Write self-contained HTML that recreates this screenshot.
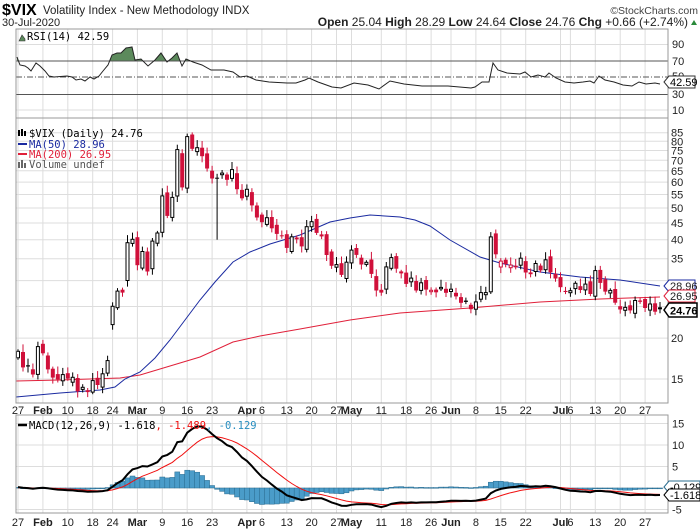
<!DOCTYPE html>
<html><head><meta charset="utf-8"><style>
html,body{margin:0;padding:0;background:#fff;}
svg{display:block;font-family:"Liberation Sans",Arial,sans-serif;}
</style></head><body>
<svg id="c" width="700" height="530" xmlns="http://www.w3.org/2000/svg"></svg>
<script>
const C=[18.23,16.28,16.39,15.49,18.84,17.97,16.05,15.15,14.96,15.47,15.04,15.18,13.74,14.15,13.68,14.83,14.38,15.56,17.08,25.03,27.85,27.56,39.16,40.11,
33.42,36.82,31.99,39.62,41.94,54.46,47.30,53.90,75.47,57.83,82.69,75.91,76.45,72.00,66.04,61.59,61.67,63.95,61.00,65.54,57.08,53.54,
57.06,50.91,46.80,45.24,46.70,43.35,41.67,41.17,37.76,40.84,40.11,38.15,43.83,45.41,41.98,41.38,35.93,33.29,33.57,31.23,34.15,
37.19,35.97,33.61,34.12,31.44,27.98,27.57,33.04,35.28,32.61,31.89,29.30,30.53,27.99,29.53,28.16,28.01,27.62,28.59,27.51,
28.23,26.84,25.66,25.81,24.52,25.81,27.57,27.57,40.79,36.09,34.40,33.67,33.47,32.94,35.12,31.77,31.37,33.84,32.22,34.73,31.78,30.43,
28.62,27.68,27.94,29.43,28.08,29.26,27.29,32.19,29.52,27.76,28.00,25.68,24.46,24.84,24.32,26.08,25.84,24.74,25.44,24.10,24.76];
const X=i=>18+i*4.977;
const Y=v=>379-142*Math.log(v/15);
const YM=v=>488-v*4.3;
let s='';
const L=16,R=668;
const grid=[[0,'27'],[5,'Feb',1],[10,'10'],[15,'18'],[19,'24'],[24,'Mar',1],[29,'9'],[34,'16'],[39,'23'],[46,'Apr',1],[49,'6'],[54,'13'],[59,'20'],[64,'27'],[67,'May',1],[73,'11'],[78,'18'],[83,'26'],[87,'Jun',1],[92,'8'],[97,'15'],[102,'22'],[109,'Jul',1],[111,'6'],[116,'13'],[121,'20'],[126,'27']];
function vgrid(y1,y2){grid.forEach(g=>{s+=`<line x1="${X(g[0]).toFixed(1)}" y1="${y1}" x2="${X(g[0]).toFixed(1)}" y2="${y2}" stroke="#ddd"/>`;});}
function dates(y){grid.forEach(g=>{s+=`<text x="${X(g[0]).toFixed(1)}" y="${y}" font-size="11" text-anchor="middle" ${g[2]?'font-weight="bold"':''} fill="#222">${g[1]}</text>`;});}
vgrid(29,118);
[44.5,110].forEach(y=>s+=`<line x1="${L}" y1="${y}" x2="${R}" y2="${y}" stroke="#ddd"/>`);
const rsi=[[17,57],[20,65],[25,66],[28,68],[31,71],[36,63],[40,66],[45,71],[49,76],[54,77],[67,76],[72,77],[76,80],[81,79],[85,81],[90,77],[94,79],[99,76],[103,71],[108,65],[112,55],[117,53],[121,53],[126,48],[132,47],[135,60],[141,59],[148,66],[155,60],[161,53],[167,62],[172,58],[177,53],[182,66],[186,59],[193,62],[202,65],[211,70],[224,70],[233,72],[240,77],[247,76],[256,80],[269,82],[287,83],[296,83],[305,80],[309,78],[318,82],[332,87],[341,88],[354,83],[368,85],[379,89],[390,81],[404,84],[422,86],[448,86],[471,88],[475,87],[482,82],[489,82],[493,63],[498,70],[507,73],[520,74],[525,72],[531,77],[538,75],[545,77],[549,73],[556,78],[565,82],[574,83],[583,82],[590,81],[594,83],[599,76],[605,80],[614,82],[623,85],[632,86],[639,82],[646,84],[655,83],[660,84]];
const rp=rsi.map(p=>p.join(',')).join(' ');
s+=`<defs><clipPath id="rc"><rect x="${L}" y="29" width="${R-L}" height="32"/></clipPath><clipPath id="mc"><rect x="${L}" y="415" width="${R-L}" height="98"/></clipPath><clipPath id="pc"><rect x="${L}" y="118" width="${R-L}" height="285"/></clipPath></defs>`;
s+=`<polygon points="${rp} 660,61 17,61" fill="#5c8a5c" clip-path="url(#rc)"/>`;
s+=`<line x1="${L}" y1="61" x2="${R}" y2="61" stroke="#555"/><line x1="${L}" y1="94.5" x2="${R}" y2="94.5" stroke="#555"/>`;
s+=`<line x1="${L}" y1="77" x2="${R}" y2="77" stroke="#555" stroke-dasharray="6,2,1,2"/>`;
s+=`<polyline points="${rp}" fill="none" stroke="#222" stroke-width="1"/>`;
s+=`<rect x="${L}" y="29" width="${R-L}" height="89" fill="none" stroke="#999"/>`;
[[90,48],[70,65],[50,80],[30,98],[10,114]].forEach(a=>s+=`<text x="672" y="${a[1]}" font-size="11" fill="#222">${a[0]}</text>`);
s+=`<path d="M664,82 l5,-6 h26 v12 h-26 z" fill="#fff" stroke="#333"/><text x="670" y="86" font-size="11">42.59</text>`;
s+=`<path d="M19,41 l3,-6 l3,4 l0,2z" fill="#5c8a5c" stroke="#333" stroke-width=".6"/><text x="27" y="40" font-size="10.5" font-family="DejaVu Sans Mono,monospace">RSI(14) 42.59</text>`;
vgrid(118,403);
[15,20,25,30,35,40,45,50,55,60,65,70,75,80,85].forEach(v=>{s+=`<line x1="${L}" y1="${Y(v).toFixed(1)}" x2="${R}" y2="${Y(v).toFixed(1)}" stroke="#ddd"/>`;if(v!=25&&v!=30)s+=`<text x="671" y="${(Y(v)+4).toFixed(1)}" font-size="11" fill="#222">${v}</text>`;});
const ma50=[[16,397],[60,393],[100,390],[115,387],[125,379],[140,372],[155,358],[170,340],[185,320],[200,300],[215,282],[233,262],[250,252],[270,244],[300,235],[330,222],[350,218],[370,215],[400,217],[415,220],[430,226],[450,240],[480,257],[500,263],[540,272],[580,277],[620,280],[660,286]];
const ma200=[[16,381],[60,380],[120,378],[140,375],[170,366],[200,357],[233,342],[260,336],[300,329],[350,320],[400,313],[470,308],[540,302],[600,299],[660,297]];
s+=`<g clip-path="url(#pc)">`;
s+=`<polyline points="${ma200.map(p=>p.join(',')).join(' ')}" fill="none" stroke="#e0203a" stroke-width="1"/>`;
s+=`<polyline points="${ma50.map(p=>p.join(',')).join(' ')}" fill="none" stroke="#1a2aa0" stroke-width="1"/>`;
let prev=C[0]*0.98;
C.forEach((c,i)=>{
  let o=prev*(1+((i*37)%11-5)/200);
  if(i==19)o=22;if(i==22)o=30;if(i==97)o=33;
  const hi=Math.max(o,c)*(1.015+((i*13)%7)/150), lo=Math.min(o,c)*(0.985-((i*17)%5)/150);
  let low=lo; if(i==40)low=40;
  const x=X(i), red=c<prev, col=red?'#d0103a':'#000';
  const yt=Y(Math.max(o,c)),yb=Y(Math.min(o,c));
  s+=`<line x1="${x.toFixed(1)}" y1="${Y(hi).toFixed(1)}" x2="${x.toFixed(1)}" y2="${Y(low).toFixed(1)}" stroke="${col}"/>`;
  const h=Math.max(1,yb-yt);
  if(c<o) s+=`<rect x="${(x-2).toFixed(1)}" y="${yt.toFixed(1)}" width="4" height="${h.toFixed(1)}" fill="${col}"/>`;
  else s+=`<rect x="${(x-1.5).toFixed(1)}" y="${yt.toFixed(1)}" width="3" height="${h.toFixed(1)}" fill="#fff" stroke="${col}"/>`;
  prev=c;
});
s+=`</g>`;
s+=`<rect x="${L}" y="118" width="${R-L}" height="285" fill="none" stroke="#999"/>`;
s+=`<path d="M664,286 l5,-6 h26 v12 h-26 z" fill="#fff" stroke="#1a2aa0"/><text x="670" y="290" font-size="11" fill="#222">28.96</text>`;
s+=`<path d="M664,296 l5,-6 h26 v12 h-26 z" fill="#fff" stroke="#e0203a"/><text x="670" y="300" font-size="11" fill="#222">26.95</text>`;
s+=`<path d="M664,310 l5,-7 h28 v14 h-28 z" fill="#fff" stroke="#000" stroke-width="1.5"/><text x="670" y="314.5" font-size="11" font-weight="bold">24.76</text>`;
const lf='font-size="10.5" font-family="DejaVu Sans Mono,monospace"';
s+=`<rect x="18" y="130" width="2" height="6" fill="#000"/><rect x="21" y="129" width="2" height="7" fill="#000"/><rect x="24" y="131" width="2" height="5" fill="#000"/><text x="29" y="137" ${lf}>$VIX (Daily) 24.76</text>`;
s+=`<line x1="18" y1="144" x2="27" y2="144" stroke="#1a2aa0" stroke-width="2"/><text x="29" y="148" ${lf} fill="#1a2aa0">MA(50) 28.96</text>`;
s+=`<line x1="18" y1="154" x2="27" y2="154" stroke="#e0203a" stroke-width="2"/><text x="29" y="158" ${lf} fill="#e0203a">MA(200) 26.95</text>`;
s+=`<rect x="18" y="162" width="2" height="6" fill="#666"/><rect x="21" y="160" width="2" height="8" fill="#666"/><rect x="24" y="163" width="2" height="5" fill="#666"/><text x="29" y="168" ${lf} fill="#555">Volume undef</text>`;
dates(414);
vgrid(415,513);
[15,10,5,0,-5].forEach(v=>{s+=`<line x1="${L}" y1="${YM(v)}" x2="${R}" y2="${YM(v)}" stroke="#ddd"/>`;if(v!=0)s+=`<text x="672" y="${YM(v)+4}" font-size="11" fill="#222">${v}</text>`;});
let e12=C[0]*0.97,e26=C[0]*0.96,sig=0;const M=[],S=[],H=[];
C.forEach((c,i)=>{e12+= (c-e12)*2/13;e26+=(c-e26)*2/27;const m=e12-e26;sig+= (m-sig)*2/10;M.push(m);S.push(sig);H.push(m-sig);});
const sh=-0.129-H[H.length-1];
s+=`<g clip-path="url(#mc)">`;
H.forEach((h,i)=>{h+=sh*(i/130);const y0=YM(0),y1=YM(h);s+=`<rect x="${(X(i)-2.5).toFixed(1)}" y="${Math.min(y0,y1).toFixed(1)}" width="5" height="${Math.max(0.8,Math.abs(y1-y0)).toFixed(1)}" fill="#4a9cc9" stroke="#2a6c8f" stroke-width=".5"/>`;});
s+=`<polyline points="${S.map((v,i)=>X(i).toFixed(1)+','+YM(v).toFixed(1)).join(' ')}" fill="none" stroke="#f01010" stroke-width="1"/>`;
s+=`<polyline points="${M.map((v,i)=>X(i).toFixed(1)+','+YM(v).toFixed(1)).join(' ')}" fill="none" stroke="#000" stroke-width="2"/>`;
s+=`</g>`;
s+=`<rect x="${L}" y="415" width="${R-L}" height="98" fill="none" stroke="#999"/>`;
s+=`<path d="M664,487 l5,-6 h31 v12 h-31 z" fill="#fff" stroke="#2a6c8f"/><text x="670" y="491" font-size="11">-0.129</text>`;
s+=`<path d="M664,495 l5,-6 h31 v12 h-31 z" fill="#fff" stroke="#000"/><text x="670" y="499" font-size="11">-1.618</text>`;
s+=`<line x1="18" y1="425" x2="27" y2="425" stroke="#000" stroke-width="2.5"/><text x="29" y="429" ${lf}>MACD(12,26,9) -1.618<tspan fill="#f01010">, -1.489</tspan><tspan fill="#2a8fc0">, -0.129</tspan></text>`;
dates(526);
s+=`<text x="2" y="15" font-size="16" font-weight="bold">$VIX</text><text x="43" y="14" font-size="11.5" fill="#222">Volatility Index - New Methodology  INDX</text>`;
s+=`<text x="698" y="14" font-size="10.5" fill="#444" text-anchor="end">©StockCharts.com</text>`;
s+=`<text x="2" y="26" font-size="11" fill="#222">30-Jul-2020</text>`;
s+=`<text x="688" y="26" font-size="12" text-anchor="end" fill="#222"><tspan font-weight="bold">Open</tspan> 25.04 <tspan font-weight="bold">High</tspan> 28.29 <tspan font-weight="bold">Low</tspan> 24.64 <tspan font-weight="bold">Close</tspan> 24.76 <tspan font-weight="bold">Chg</tspan> +0.66 (+2.74%)</text>`;
s+=`<path d="M691,25 l3,-5 l3,5z" fill="#2a8a3a"/>`;
document.getElementById('c').innerHTML=s;
</script>
</body></html>
